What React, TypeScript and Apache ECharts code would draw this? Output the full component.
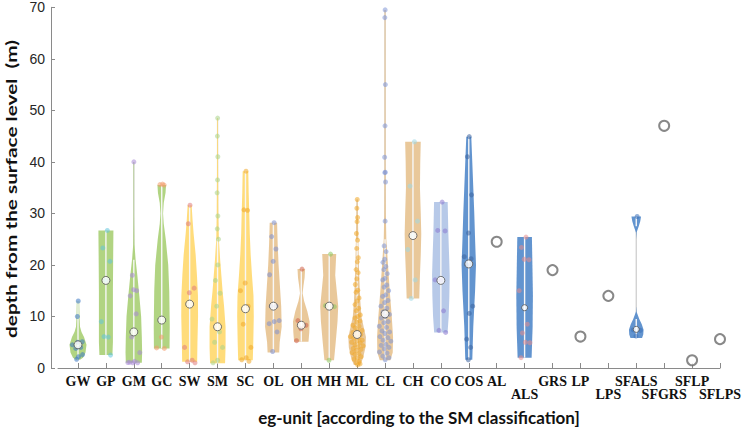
import React, { useEffect, useRef } from "react";
import * as echarts from "echarts";

// ---------- data ----------
const categories = ["GW", "GP", "GM", "GC", "SW", "SM", "SC", "OL", "OH", "MH", "ML", "CL", "CH", "CO", "COS", "AL", "ALS", "GRS", "LP", "LPS", "SFALS", "SFGRS", "SFLP", "SFLPS"];
const lowerRowLabels = ["ALS", "LPS", "SFGRS", "SFLPS"];
const yTicks = [0, 10, 20, 30, 40, 50, 60, 70];
const xTitle = "eg-unit [according to the SM classification]";
const yTitle = "depth from the surface level  (m)";

const violinCats = ["GW", "GP", "GM", "GC", "SW", "SM", "SC", "OL", "OH", "MH", "ML", "CL", "CH", "CO", "COS", "ALS", "SFALS"];
const medians = [4.5, 17.0, 7.0, 9.3, 12.4, 8.0, 11.5, 12.0, 8.3, 12.0, 6.5, 10.5, 25.7, 17.0, 20.2, 11.7, 7.5];

// density profiles [depth, relative density]
const densGW = [[1.6, 2], [2, 5], [3, 7.5], [4.5, 8.5], [6, 6], [7, 3.5], [8, 2], [10, 1.5], [13, 1.2]];
const densGP = [[2.5, 6.5], [5, 7], [15, 7], [20, 7.2], [26.7, 7.5]];
const densGM = [[1, 8], [3, 8.3], [6, 8], [10, 7.3], [14, 5.5], [18, 3.5], [21, 1.8], [24, 0.6], [30, 0.3], [40, 0.3]];
const densGC = [[3.8, 7.8], [8, 8], [15, 7.5], [20, 6.5], [25, 4], [28, 2], [30, 1.3], [32, 2], [34, 3.8], [35.5, 4.3]];
const densSW = [[1.2, 7.5], [5, 7.8], [10, 8.4], [14, 8.3], [18, 7.3], [22, 6], [26, 4], [29, 2.8], [31.6, 2]];
const densSM = [[0.9, 7.5], [4, 8], [8, 8], [12, 6.5], [15, 5], [18, 3.8], [21, 2.6], [25, 1.3], [30, 0.8], [40, 0.5], [48.5, 0.4]];
const densSC = [[1.5, 7.3], [5, 7.8], [10, 8.3], [14, 8], [18, 6.5], [22, 5.2], [26, 4.3], [30, 3.8], [34, 3.2], [38.2, 2.8]];
const densOL = [[3, 5.8], [5, 6.3], [8, 8.3], [12, 7.8], [16, 6.5], [20, 5.2], [24, 4.3], [28.2, 3.7]];
const densOH = [[5.1, 7.2], [7, 8], [9, 8.3], [11, 6], [13, 2.8], [14.5, 1.3], [16, 2.2], [17.5, 3.3], [19.2, 3.8]];
const densMH = [[1.5, 4.8], [5, 6.5], [9, 8.3], [12, 9], [15, 7.5], [18, 6], [20, 6.5], [22.1, 7]];
const densML = [[0.6, 3.3], [2, 6], [4, 8.3], [6, 8.8], [8, 6.5], [10, 4.3], [13, 3.2], [16, 2.5], [20, 1.8], [25, 1.2], [30, 0.7], [32.7, 0.5]];
const densCL = [[1.5, 5.3], [3, 7.7], [6, 8], [10, 6.7], [15, 4.7], [19, 3.3], [22, 2.3], [25, 1.3], [30, 0.8], [40, 0.6], [69.5, 0.5]];
const densCH = [[13.5, 6.3], [18, 7], [22, 7.8], [26, 8.3], [30, 7.8], [35, 7], [40, 7.3], [43.9, 7.8]];
const densCO = [[6.9, 6.7], [10, 7.8], [14, 8.5], [18, 8.8], [22, 8.2], [26, 7.5], [32.2, 6.8]];
const densCOS = [[1.6, 3.5], [8, 4.5], [15, 6.3], [20, 7.2], [25, 6.3], [30, 5.5], [35, 4.5], [40, 3.5], [44.9, 2.5]];
const densALS = [[2, 7], [8, 8], [14, 8.3], [20, 7.8], [25.4, 7.3]];
const densSFALS = [[5.8, 5.8], [6.5, 7], [7.4, 7.3], [8.5, 5.5], [9.5, 3], [10.9, 0.3], [12, 0], [25, 0], [26.3, 0.3], [27.5, 2.5], [28.5, 4], [29.4, 4.8]];

// raw observations (depth, m)
const ptsGW = [13.0, 10.0, 5.1, 5.0, 4.5, 4.0, 3.8, 2.6, 2.2, 1.7];
const ptsGP = [26.7, 23.3, 20.7, 17.0, 9.0, 6.0, 6.1, 2.5];
const ptsGM = [40.0, 18.0, 15.0, 15.2, 14.0, 10.5, 6.0, 3.0, 1.3, 1.1, 1.0, 1.0, 1.05];
const ptsGC = [35.7, 35.6, 35.5, 6.0, 3.9, 3.8];
const ptsSW = [31.6, 28.0, 15.5, 14.6, 4.0, 1.5, 1.2, 1.0];
const ptsSM = [48.5, 45.0, 41.0, 36.5, 34.0, 29.5, 27.0, 25.0, 20.0, 17.0, 14.5, 12.0, 9.5, 7.0, 5.0, 4.0, 1.5, 1.0];
const ptsSC = [38.2, 30.7, 30.6, 16.5, 15.0, 12.0, 8.5, 4.0, 2.0, 1.6, 1.3];
const ptsOL = [28.2, 25.5, 23.1, 20.7, 18.1, 12.0, 12.0, 9.2, 9.0, 8.6, 7.0, 3.2];
const ptsOH = [19.2, 9.2, 8.3, 7.6, 5.3];
const ptsMH = [22.1, 12.1, 11.9, 1.5];
const ptsML = [32.7, 31.0, 29.2, 28.4, 26.1, 24.8, 23.2, 21.4, 20.6, 19.1, 18.5, 17.3, 16.2, 15.1, 14.7, 13.6, 13.0, 12.3, 11.6, 11.1, 10.3, 10.0, 9.7, 9.1, 8.9, 8.3, 8.1, 7.8, 7.3, 7.2, 6.9, 6.5, 6.4, 6.1, 5.9, 5.8, 5.4, 5.2, 5.0, 4.9, 4.5, 4.3, 4.1, 3.8, 3.6, 3.4, 3.0, 2.8, 2.6, 2.2, 1.9, 1.7, 1.3, 1.0, 0.8, 0.6];
const ptsCL = [69.5, 68.0, 55.0, 47.0, 40.9, 38.0, 37.9, 36.1, 28.5, 23.7, 22.6, 21.1, 20.5, 19.7, 19.1, 18.3, 17.4, 17.1, 16.1, 15.7, 15.0, 14.2, 13.9, 13.1, 12.7, 12.0, 11.6, 10.9, 10.4, 10.0, 9.7, 9.0, 8.8, 8.1, 7.9, 7.2, 7.0, 6.7, 6.1, 5.9, 5.4, 5.2, 4.6, 4.4, 4.0, 3.7, 3.1, 2.9, 2.3, 2.0, 1.6];
const ptsCH = [43.9, 35.3, 28.5, 25.7, 23.0, 17.1, 13.5];
const ptsCO = [32.2, 26.7, 26.6, 17.0, 17.1, 11.1, 7.3, 6.9];
const ptsCOS = [44.9, 41.0, 33.6, 26.2, 21.6, 21.2, 20.0, 12.0, 10.6, 5.6, 4.0, 1.6];
const ptsALS = [25.4, 23.4, 21.0, 21.1, 15.0, 8.5, 6.8, 4.9, 5.0, 2.0];
const ptsSFALS = [29.4, 7.4, 7.3, 6.2];

const singleCats = ["AL", "GRS", "LP", "LPS", "SFGRS", "SFLP", "SFLPS"];
const singleValues = [24.5, 19.0, 6.1, 14.0, 47.0, 1.5, 5.6];

// ---------- styles ----------
const densities = [densGW, densGP, densGM, densGC, densSW, densSM, densSC, densOL, densOH, densMH, densML, densCL, densCH, densCO, densCOS, densALS, densSFALS];
const points = [ptsGW, ptsGP, ptsGM, ptsGC, ptsSW, ptsSM, ptsSC, ptsOL, ptsOH, ptsMH, ptsML, ptsCL, ptsCH, ptsCO, ptsCOS, ptsALS, ptsSFALS];
const GREEN = "#add27b";
const YELLOW = "#ffda74";
const TAN = "#e8c595";
const LBLUE = "#b3c6e7";
const BLUE = "#5a8ecc";
const fillColors = [GREEN, GREEN, GREEN, GREEN, YELLOW, YELLOW, YELLOW, TAN, TAN, TAN, TAN, TAN, TAN, LBLUE, BLUE, BLUE, BLUE];
const dotColors = ["#3d78c2", "#62c4dc", "#a889d6", "#f29a6a", "#e07c7c", "#a9d48a", "#f0a828", "#7d8fd0", "#d0604a", "#8cc65e", "#f0a828", "#7f95d6", "#9fd8e6", "#8a78d0", "#3d65a0", "#e88c8c", "#3a70b8"];

const DENS_SCALE = 1 / 27.9; // density unit -> category units
const posOf = (c: string) => categories.indexOf(c) + 1;

function widthAt(prof: number[][], v: number): number {
  if (v <= prof[0][0]) return prof[0][1];
  for (let i = 1; i < prof.length; i++) {
    if (v <= prof[i][0]) {
      const [d0, w0] = prof[i - 1];
      const [d1, w1] = prof[i];
      const t = (v - d0) / (d1 - d0 || 1);
      return w0 + (w1 - w0) * t;
    }
  }
  return prof[prof.length - 1][1];
}

const LABEL_STYLE = {
  fontFamily: "Liberation Serif",
  fontWeight: "bold",
  fontSize: 14,
  color: "#111111",
  hideOverlap: false,
  showMaxLabel: true,
  showMinLabel: true,
};

export default function App() {
  const ref = useRef<HTMLDivElement>(null);
  useEffect(() => {
    if (!ref.current) return;
    const chart = echarts.init(ref.current, undefined, { renderer: "svg" });

    const violinData = violinCats.map((c, i) => [posOf(c), medians[i]]);

    const scatterData: any[] = [];
    violinCats.forEach((c, i) => {
      const x0 = posOf(c);
      points[i].forEach((v, k) => {
        const frac = ((((k + 1) * 0.6180339887) % 1) * 2 - 1) * 0.8;
        const w = widthAt(densities[i], v) * DENS_SCALE;
        scatterData.push({ value: [x0 + frac * w, v], itemStyle: { color: dotColors[i] } });
      });
    });

    const medianData = violinCats.map((c, i) => ({
      value: [posOf(c), medians[i]],
      symbolSize: c === "ALS" || c === "SFALS" ? 6 : 8,
    }));
    const singleData = singleCats.map((c, i) => [posOf(c), singleValues[i]]);

    const upperCats = categories.filter((c) => !lowerRowLabels.includes(c));
    const nameOf = (val: number) => categories[Math.round(val) - 1] || "";

    const option: any = {
      animation: false,
      backgroundColor: "#ffffff",
      grid: { left: 58, right: 30, top: 7.3, bottom: 61, containLabel: false, outerBoundsMode: "none" },
      xAxis: [
        {
          type: "value",
          min: 0.2835,
          max: 24,
          position: "bottom",
          splitLine: { show: false },
          axisLine: { show: true, lineStyle: { color: "#8a8a8a", width: 1 } },
          axisTick: { show: true, inside: true, length: 5, lineStyle: { color: "#8a8a8a" }, customValues: categories.map((_, i) => i + 1) },
          axisLabel: { ...LABEL_STYLE, customValues: upperCats.map(posOf), formatter: nameOf, margin: 6 },
          name: xTitle,
          nameLocation: "middle",
          nameGap: 41,
          nameTextStyle: { fontFamily: "Lato", fontWeight: "bold", fontSize: 17, color: "#111111", padding: [0, 0, 0, 60] },
        },
        {
          type: "value",
          min: 0.2835,
          max: 24,
          position: "bottom",
          offset: 0,
          splitLine: { show: false },
          axisLine: { show: false },
          axisTick: { show: false },
          axisLabel: { ...LABEL_STYLE, customValues: lowerRowLabels.map(posOf), formatter: nameOf, margin: 19 },
        },
      ],
      yAxis: {
        type: "value",
        min: 0,
        max: 70,
        interval: 10,
        offset: 7,
        splitLine: { show: false },
        axisLine: { show: true, lineStyle: { color: "#8a8a8a", width: 1 } },
        axisTick: { show: true, inside: true, length: 4, lineStyle: { color: "#8a8a8a" } },
        axisLabel: {
          formatter: (v: number) => (yTicks.includes(v) ? String(v) : ""),
          fontFamily: "Liberation Sans",
          fontSize: 14,
          color: "#262626",
          margin: 6,
        },
      },
      graphic: [
        {
          type: "text",
          x: 11,
          y: 189,
          rotation: Math.PI / 2,
          scaleX: 1.3,
          style: {
            text: yTitle,
            fontFamily: "Lato",
            fontWeight: "bold",
            fontSize: 16,
            fill: "#111111",
            align: "center",
            verticalAlign: "middle",
          },
        },
      ],
      series: [
        {
          type: "custom",
          data: violinData,
          encode: { x: 0, y: 1 },
          clip: false,
          z: 2,
          renderItem: (params: any, api: any) => {
            const i = params.dataIndex;
            const prof = densities[i];
            const cx = posOf(violinCats[i]);
            const right = prof.map(([d, w]) => api.coord([cx + w * DENS_SCALE, d]));
            const left = prof.slice().reverse().map(([d, w]) => api.coord([cx - w * DENS_SCALE, d]));
            const lo = prof[0][0];
            const hi = prof[prof.length - 1][0];
            const p0 = api.coord([cx, lo]);
            const p1 = api.coord([cx, hi]);
            const children: any[] = [
              { type: "line", shape: { x1: p0[0], y1: p0[1], x2: p1[0], y2: p1[1] }, style: { stroke: "#cfcfcf", lineWidth: 1.3 } },
              { type: "polygon", shape: { points: right.concat(left) }, style: { fill: fillColors[i], opacity: 0.95 } },
            ];
            let start: number | null = null;
            for (let k = 0; k <= prof.length; k++) {
              const ok = k < prof.length && prof[k][1] >= 1;
              if (ok && start === null) start = k;
              if (!ok && start !== null) {
                const a = api.coord([cx, prof[start][0]]);
                const b = api.coord([cx, prof[k - 1][0]]);
                children.push({ type: "line", shape: { x1: a[0], y1: a[1], x2: b[0], y2: b[1] }, style: { stroke: "#f7f7f7", lineWidth: 1.4 } });
                start = null;
              }
            }
            return { type: "group", children };
          },
        },
        {
          type: "scatter",
          data: scatterData,
          symbolSize: 5,
          itemStyle: { opacity: 0.55 },
          z: 3,
        },
        {
          type: "scatter",
          data: medianData,
          itemStyle: { color: "#ffffff", borderColor: "#555555", borderWidth: 1 },
          z: 4,
        },
        {
          type: "scatter",
          data: singleData,
          symbolSize: 10,
          itemStyle: { color: "#ffffff", borderColor: "#6a6a6a", borderWidth: 2 },
          z: 4,
        },
      ],
    };
    chart.setOption(option);
    return () => chart.dispose();
  }, []);
  return <div ref={ref} style={{ width: 750, height: 429, position: "absolute", left: 0, top: 0 }} />;
}
